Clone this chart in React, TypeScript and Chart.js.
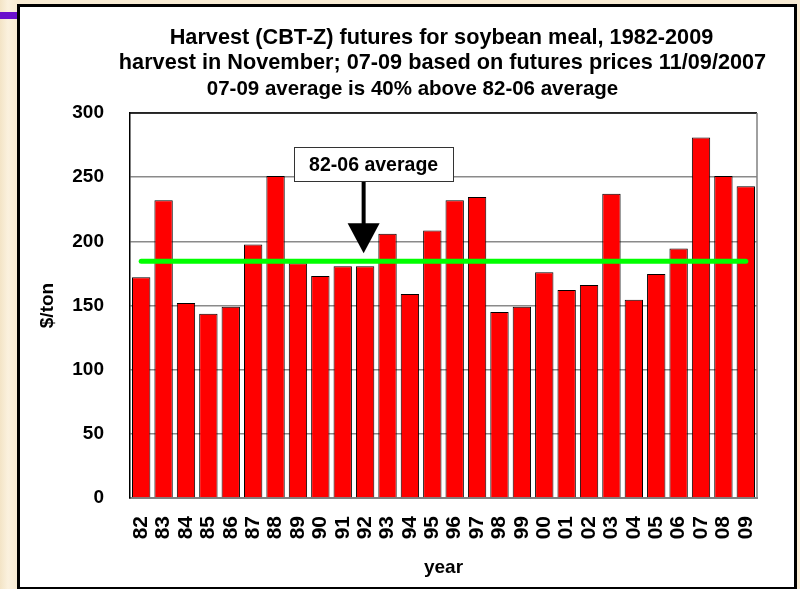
import React, { useEffect, useRef } from 'react';
import { Chart, registerables } from 'chart.js';

Chart.register(...registerables);

const years = ['82', '83', '84', '85', '86', '87', '88', '89', '90', '91', '92', '93', '94', '95', '96', '97', '98', '99', '00', '01', '02', '03', '04', '05', '06', '07', '08', '09'];
const prices = [172, 232, 152, 143.5, 149, 197.5, 251, 183, 173, 180.5, 180.5, 206, 159, 208.5, 232, 234.5, 145, 149, 176, 162, 166, 237, 154.5, 174.5, 194.5, 281, 251, 243];
const average8206 = 184.5;
const averageLine = years.map(() => average8206);
const yMin = 0;
const yMax = 300;
const yStep = 50;
const titleLines = [
  'Harvest (CBT-Z) futures for soybean meal, 1982-2009',
  'harvest in November; 07-09 based on futures prices 11/09/2007',
  '07-09 average is 40% above 82-06 average',
];
const annotationText = '82-06 average';
const annotationYear = '92';
const xTitle = 'year';
const yTitle = '$/ton';

const FONT = '"Liberation Sans", Arial, sans-serif';

const decorPlugin = {
  id: 'decor',
  afterDatasetsDraw(chart: any) {
    const { ctx, chartArea: ca, scales } = chart;
    const x = scales.x;
    const y = scales.y;
    ctx.save();
    // frame top and right
    ctx.strokeStyle = '#000';
    ctx.lineWidth = 1.5;
    ctx.beginPath();
    ctx.moveTo(ca.left, ca.top);
    ctx.lineTo(ca.right, ca.top);
    ctx.stroke();
    ctx.strokeStyle = '#808080';
    ctx.beginPath();
    ctx.moveTo(ca.right, ca.top);
    ctx.lineTo(ca.right, ca.bottom);
    ctx.stroke();

    // annotation arrow
    const ax = x.getPixelForValue(years.indexOf(annotationYear)) - 1.5;
    const tipY = y.getPixelForValue(average8206) - 8;
    const headH = 30;
    const headHalf = 16;
    const boxW = 159;
    const boxH = 34;
    const boxCx = ax + 10;
    const boxTop = tipY - 106;
    ctx.strokeStyle = '#000';
    ctx.lineWidth = 4;
    ctx.beginPath();
    ctx.moveTo(ax, boxTop + boxH);
    ctx.lineTo(ax, tipY - headH + 2);
    ctx.stroke();
    ctx.fillStyle = '#000';
    ctx.beginPath();
    ctx.moveTo(ax - headHalf, tipY - headH);
    ctx.lineTo(ax + headHalf, tipY - headH);
    ctx.lineTo(ax, tipY);
    ctx.closePath();
    ctx.fill();

    // annotation box
    ctx.fillStyle = '#fff';
    ctx.fillRect(boxCx - boxW / 2, boxTop, boxW, boxH);
    ctx.strokeStyle = '#333';
    ctx.lineWidth = 1;
    ctx.strokeRect(Math.round(boxCx - boxW / 2) + 0.5, Math.round(boxTop) + 0.5, boxW, boxH);
    ctx.fillStyle = '#000';
    ctx.font = `bold 19.5px ${FONT}`;
    ctx.textAlign = 'center';
    ctx.textBaseline = 'alphabetic';
    ctx.fillText(annotationText, boxCx, boxTop + boxH / 2 + 7);
    ctx.restore();
  },
  afterDraw(chart: any) {
    const { ctx, chartArea: ca } = chart;
    const cx = (ca.left + ca.right) / 2;
    ctx.save();
    ctx.fillStyle = '#000';
    ctx.textAlign = 'center';
    ctx.textBaseline = 'alphabetic';
    ctx.font = `bold 21.7px ${FONT}`;
    ctx.fillText(titleLines[0], cx - 2, ca.top - 69);
    ctx.fillText(titleLines[1], cx - 1, ca.top - 44);
    ctx.font = `bold 20.5px ${FONT}`;
    ctx.fillText(titleLines[2], cx - 31, ca.top - 18);
    ctx.restore();
  },
};

export default function App() {
  const ref = useRef<HTMLCanvasElement | null>(null);

  useEffect(() => {
    document.body.style.margin = '0';
    const canvas = ref.current;
    if (!canvas) return;
    const chart = new Chart(canvas, {
      type: 'bar',
      data: {
        labels: years,
        datasets: [
          {
            type: 'line',
            data: averageLine,
            borderColor: '#00ff00',
            borderWidth: 5,
            borderCapStyle: 'round',
            pointRadius: 0,
            fill: false,
            order: 0,
          } as any,
          {
            type: 'bar',
            data: prices,
            backgroundColor: '#ff0000',
            borderColor: '#000',
            borderWidth: 1,
            barPercentage: 0.82,
            categoryPercentage: 1,
            order: 1,
          },
        ],
      },
      options: {
        responsive: false,
        animation: false,
        maintainAspectRatio: false,
        layout: { padding: { top: 106, right: 37, left: 0, bottom: 0 } },
        plugins: {
          legend: { display: false },
          tooltip: { enabled: false },
          title: { display: false },
        },
        scales: {
          x: {
            offset: true,
            grid: { display: false, drawTicks: false },
            border: { display: true, color: '#808080', width: 2 },
            ticks: {
              autoSkip: false,
              minRotation: 90,
              maxRotation: 90,
              padding: 18,
              color: '#000',
              font: { family: FONT, size: 21, weight: 'bold' },
            },
            title: {
              display: true,
              text: xTitle,
              color: '#000',
              font: { family: FONT, size: 19, weight: 'bold' },
              padding: { top: 0, bottom: 8 },
            },
            afterFit(s: any) {
              s.height = 89;
            },
          },
          y: {
            min: yMin,
            max: yMax,
            grid: { color: '#8a8a8a', lineWidth: 1.5, drawTicks: false },
            border: { display: true, color: '#000', width: 1.5 },
            ticks: {
              stepSize: yStep,
              padding: 26,
              color: '#000',
              font: { family: FONT, size: 19, weight: 'bold' },
            },
            title: {
              display: true,
              text: yTitle,
              color: '#000',
              font: { family: FONT, size: 19, weight: 'bold' },
              padding: { top: 16, bottom: 0 },
            },
            afterFit(s: any) {
              s.width = 110;
            },
          },
        },
      } as any,
      plugins: [decorPlugin],
    });
    return () => chart.destroy();
  }, []);

  return (
    <div
      style={{
        position: 'absolute',
        left: 0,
        top: 0,
        width: 800,
        height: 589,
        overflow: 'hidden',
        background: 'linear-gradient(90deg, #f3e4c6 0px, #fbf1de 8px, #f8ebd3 17px)',
      }}
    >
      <div style={{ position: 'absolute', left: 0, top: 12, width: 17, height: 7, background: '#6a10cc' }} />
      <div
        style={{
          position: 'absolute',
          left: 17,
          top: 4,
          width: 780,
          height: 586,
          boxSizing: 'border-box',
          border: '3px solid #000',
          background: '#fff',
        }}
      >
        <canvas ref={ref} width={774} height={580} style={{ display: 'block' }} />
      </div>
    </div>
  );
}
